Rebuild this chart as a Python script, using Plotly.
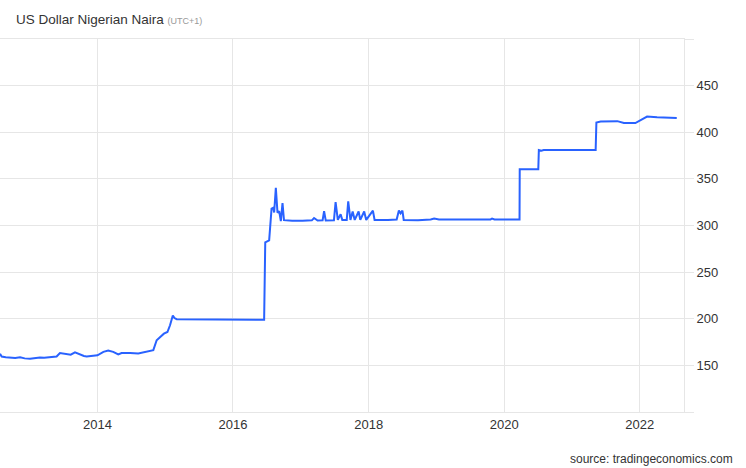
import plotly.graph_objects as go

dates = [
    "2012-07-25", "2012-08-03", "2012-08-25", "2012-09-17", "2012-10-15", "2012-11-10",
    "2012-12-05", "2013-01-03", "2013-01-28", "2013-02-25", "2013-03-20", "2013-04-20",
    "2013-05-26", "2013-06-13", "2013-07-01", "2013-07-19", "2013-08-10", "2013-09-02",
    "2013-09-29", "2013-10-20", "2013-11-04", "2013-11-22", "2013-12-15", "2014-01-01",
    "2014-02-02", "2014-02-28", "2014-03-27", "2014-04-23", "2014-05-11", "2014-06-26",
    "2014-08-09", "2014-09-24", "2014-10-29", "2014-11-16", "2014-12-01", "2014-12-13",
    "2014-12-25", "2015-01-13", "2015-01-27", "2015-02-11", "2015-02-20", "2015-03-04",
    "2015-06-01", "2015-09-01", "2015-12-01", "2016-03-01", "2016-06-17", "2016-06-23",
    "2016-07-14", "2016-07-27", "2016-08-05", "2016-08-10", "2016-08-19", "2016-08-28",
    "2016-09-06", "2016-09-15", "2016-09-24", "2016-10-02", "2016-11-15", "2017-01-10",
    "2017-03-01", "2017-03-13", "2017-04-01", "2017-04-28", "2017-05-06", "2017-05-15",
    "2017-06-28", "2017-07-07", "2017-07-19", "2017-08-03", "2017-08-12", "2017-09-05",
    "2017-09-13", "2017-09-25", "2017-10-07", "2017-10-18", "2017-11-08", "2017-11-17",
    "2017-12-08", "2017-12-19", "2018-01-24", "2018-02-02", "2018-04-15", "2018-06-01",
    "2018-06-13", "2018-06-22", "2018-07-02", "2018-07-09", "2018-09-24", "2018-12-01",
    "2018-12-20", "2019-01-15", "2019-06-01", "2019-10-20", "2019-10-28", "2019-11-10",
    "2020-03-24", "2020-03-25", "2020-07-03", "2020-07-06", "2020-07-20", "2020-08-01",
    "2021-01-01", "2021-05-08", "2021-05-12", "2021-06-04", "2021-09-02", "2021-10-07",
    "2021-12-08", "2022-02-09", "2022-04-04", "2022-07-19",
]
usdngn = [
    162.6, 159.5, 158.8, 158.5, 158.0, 158.8,
    157.5, 157.0, 157.6, 158.5, 158.2, 159.0,
    159.5, 163.2, 162.5, 162.0, 161.4, 163.9,
    161.5, 160.0, 159.6, 159.8, 159.9, 160.8,
    164.5, 165.8, 164.5, 161.7, 163.2, 163.4,
    162.7, 164.5, 166.3, 177.0, 179.5, 182.0,
    184.0, 185.8, 193.0, 203.5, 200.7, 199.5,
    199.3, 199.6, 199.2, 199.4, 199.0, 282.0,
    284.0, 318.0, 319.0, 314.0, 340.5, 313.7,
    315.4, 304.6, 324.0, 305.7, 305.0, 305.2,
    305.5, 308.0, 305.3, 305.5, 315.4, 305.3,
    305.5, 325.0, 306.0, 312.0, 306.0, 306.0,
    326.0, 306.0, 315.0, 306.0, 315.0, 306.0,
    315.0, 306.0, 316.0, 306.0, 305.8, 306.5,
    316.0, 313.0, 316.0, 306.0, 305.5, 306.5,
    307.5, 306.5, 306.6, 306.5, 307.5, 306.4,
    306.5, 360.4, 360.4, 381.0, 380.3, 381.0,
    381.0, 381.0, 410.4, 411.5, 411.9, 410.0,
    409.8, 416.8, 416.0, 415.3,
]

y_tick_values = [100, 150, 200, 250, 300, 350, 400, 450, 500]
y_tick_labels = ["", "150", "200", "250", "300", "350", "400", "450", ""]
x_range = ["2012-07-25", "2022-08-27"]

title_text = "US Dollar Nigerian Naira"
title_note = "(UTC+1)"
source_text = "source: tradingeconomics.com"

FONT = "Liberation Sans, Arial, sans-serif"
GRID = "#e6e6e6"

fig = go.Figure()
fig.add_trace(go.Scatter(
    x=dates, y=usdngn, mode="lines",
    line=dict(color="#2962ff", width=2),
    hoverinfo="skip", showlegend=False,
))

fig.update_layout(
    width=746, height=468,
    margin=dict(l=0, r=62, t=39, b=56, autoexpand=False),
    paper_bgcolor="white", plot_bgcolor="white",
    font=dict(family=FONT, color="#333333", size=12),
    xaxis=dict(
        type="date", range=x_range, automargin=False,
        tick0="2014-01-01", dtick="M24", tickformat="%Y",
        showgrid=True, gridcolor=GRID, gridwidth=1,
        zeroline=False, showline=True, linecolor=GRID, mirror=True,
        ticks="", tickfont=dict(size=13, color="#333333"),
    ),
    yaxis=dict(
        side="right", range=[100, 500], automargin=False,
        tickmode="array", tickvals=y_tick_values, ticktext=y_tick_labels,
        showgrid=True, gridcolor=GRID, gridwidth=1,
        zeroline=False, showline=True, linecolor=GRID,
        ticks="outside", ticklen=9, tickcolor=GRID,
        tickfont=dict(size=13, color="#333333"),
    ),
    annotations=[
        dict(
            xref="paper", yref="paper", x=0, y=1, xshift=14, yshift=20,
            xanchor="left", yanchor="middle", showarrow=False,
            text=title_text + " <span style='font-size:9px;color:#999999'>" + title_note + "</span>",
            font=dict(family=FONT, size=13.5, color="#333333"),
        ),
        dict(
            xref="paper", yref="paper", x=1, y=0, xshift=51, yshift=-47,
            xanchor="right", yanchor="middle", showarrow=False,
            text=source_text,
            font=dict(family=FONT, size=12, color="#333333"),
        ),
    ],
)

fig.write_html(
    "out.html",
    config={"displayModeBar": False, "staticPlot": True},
    post_script="document.body.style.margin='0';document.body.style.padding='0';",
)
